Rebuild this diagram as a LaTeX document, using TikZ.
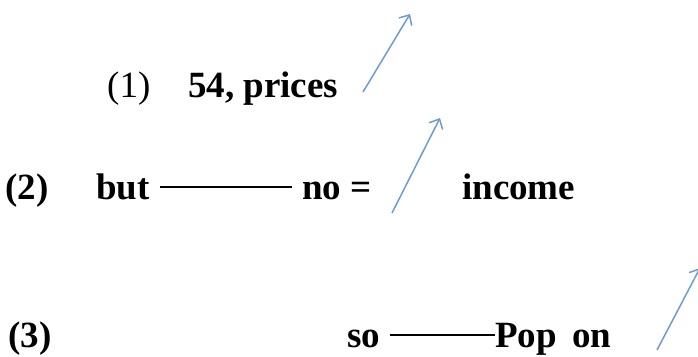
\documentclass[tikz,border=0pt]{standalone}
\usepackage{fontspec}
\setmainfont{Liberation Serif}
\usetikzlibrary{arrows.meta}
\definecolor{riseblue}{HTML}{6F9BD1}

\begin{document}
\begin{tikzpicture}[x=1pt, y=-1pt,
    every node/.style={font=\fontsize{37}{42}\selectfont\bfseries, inner sep=0pt, anchor=base west},
    plain/.style={font=\fontsize{37}{42}\selectfont},
    dashline/.style={line width=2.8pt, black},
    rise/.style={-{Straight Barb[length=8pt, width=15pt]}, line width=1.5pt, riseblue}
]
\useasboundingbox (0,0) rectangle (698,356);

% Line (1)
\node[plain] (num1) at (107,97) {(1)};
\node (prices) at (188,97) {54, prices};
\coordinate (up1a) at (363,92);
\coordinate (up1b) at (410,14);
\draw[rise] (up1a) -- (up1b);

% Line (2)
\node (num2) at (5,199) {(2)};
\node (but) at (96,199) {but};
\node (no) at (302,199) {no =};
\node (income) at (462,199) {income};
\draw[dashline] ([shift={(10,-12)}]but.base east) -- ([shift={(-10,-12)}]no.base west);
\coordinate (up2a) at (392,213);
\coordinate (up2b) at (440,118);
\draw[rise] (up2a) -- (up2b);

% Line (3)
\node (num3) at (8,347) {(3)};
\node (so) at (347,347) {so};
\node (pop) at (495,347) {Pop};
\node (on) at (572,347) {on};
\draw[dashline] ([shift={(10,-12)}]so.base east) -- ([yshift=12pt]pop.base west);
\coordinate (up3a) at (657,350);
\coordinate (up3b) at (700,268);
\draw[rise] (up3a) -- (up3b);

\end{tikzpicture}
\end{document}
